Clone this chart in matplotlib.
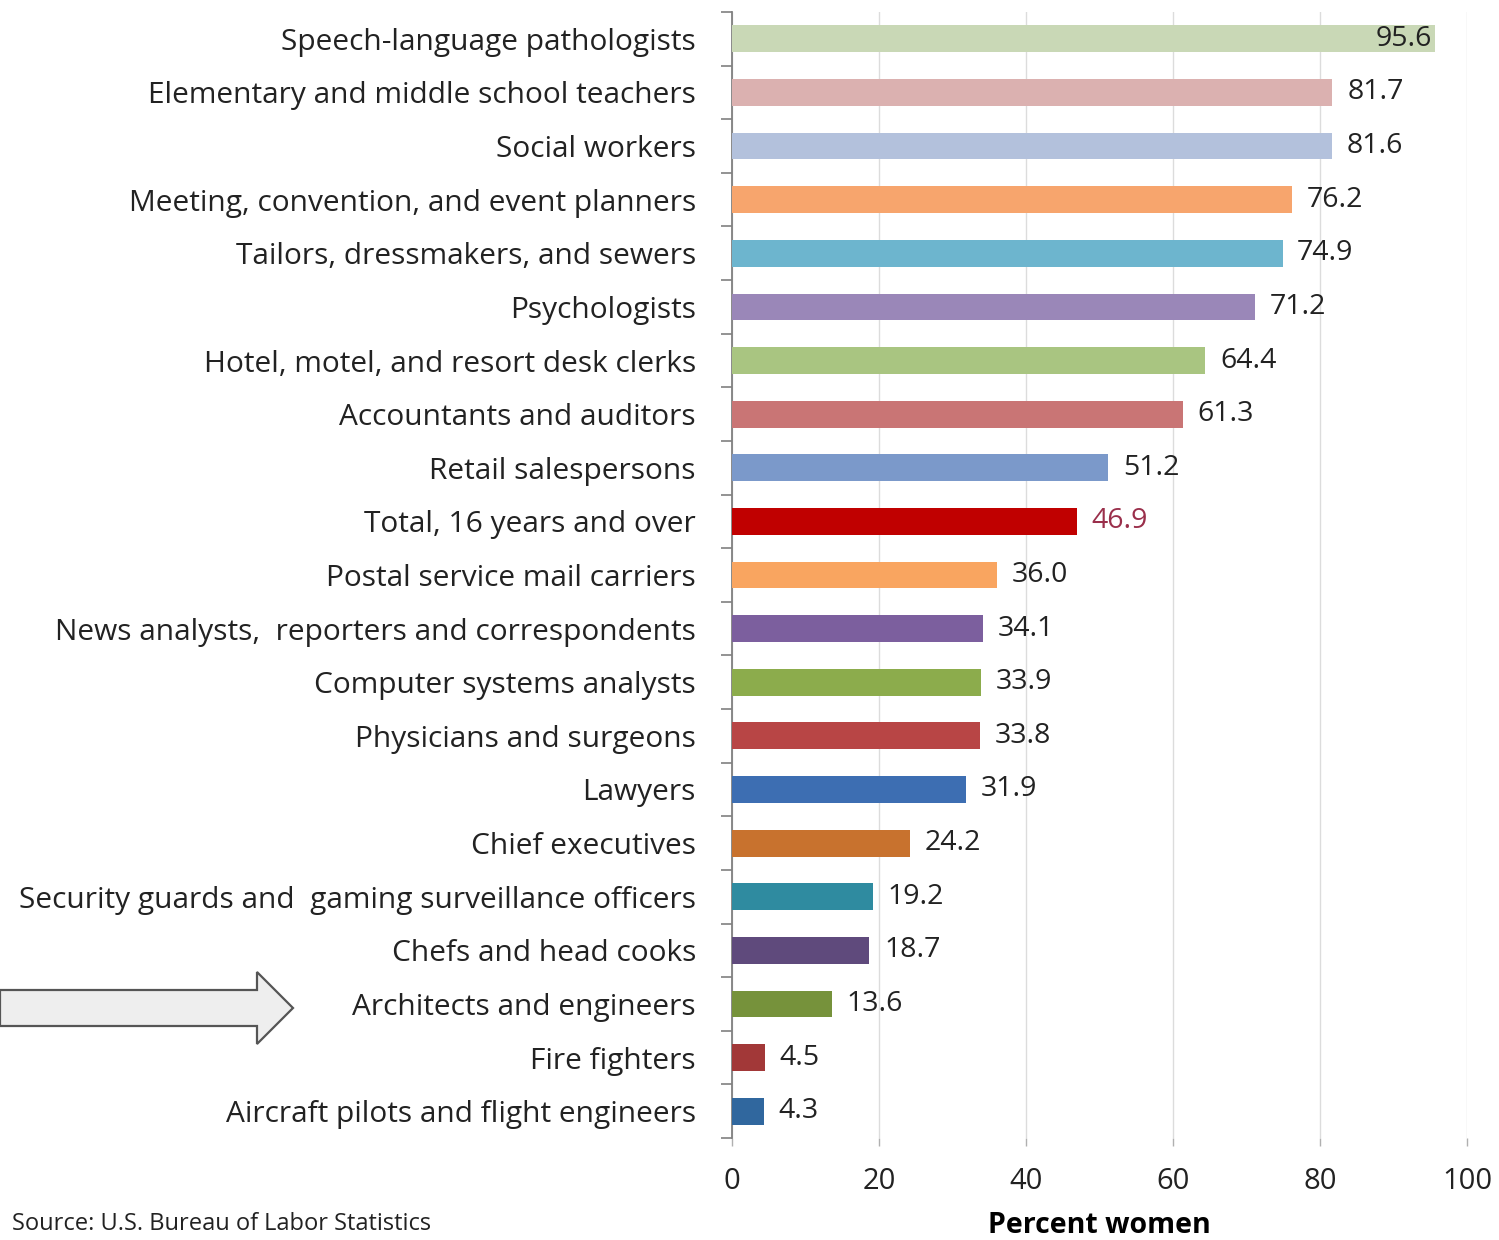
import matplotlib
matplotlib.use("Agg")
import matplotlib.pyplot as plt
from matplotlib.patches import Polygon
import numpy as np

plt.rcParams['font.family'] = ['Open Sans', 'DejaVu Sans']

occupations = [
    "Speech-language pathologists",
    "Elementary and middle school teachers",
    "Social workers",
    "Meeting, convention, and event planners",
    "Tailors, dressmakers, and sewers",
    "Psychologists",
    "Hotel, motel, and resort desk clerks",
    "Accountants and auditors",
    "Retail salespersons",
    "Total, 16 years and over",
    "Postal service mail carriers",
    "News analysts,  reporters and correspondents",
    "Computer systems analysts",
    "Physicians and surgeons",
    "Lawyers",
    "Chief executives",
    "Security guards and  gaming surveillance officers",
    "Chefs and head cooks",
    "Architects and engineers",
    "Fire fighters",
    "Aircraft pilots and flight engineers",
]
pct_women = [95.6, 81.7, 81.6, 76.2, 74.9, 71.2, 64.4, 61.3, 51.2, 46.9,
             36.0, 34.1, 33.9, 33.8, 31.9, 24.2, 19.2, 18.7, 13.6, 4.5, 4.3]
bar_colors = ["#c9d8b6", "#dbb1b0", "#b3c1dc", "#f7a56d", "#6db5ce", "#9a87b8",
              "#a9c581", "#c97575", "#7b99ca", "#c00000", "#f9a560", "#7c5f9e",
              "#8cac4c", "#b84545", "#3d6eb2", "#c8722e", "#2f8ba0", "#5f4a7c",
              "#76923b", "#a23838", "#30679e"]
label_colors = ["#222222"] * len(occupations)
label_colors[9] = "#9a2f4b"
xticks = [0, 20, 40, 60, 80, 100]

W, H = 1499, 1240
fig = plt.figure(figsize=(W / 100, H / 100), dpi=100)
ax = fig.add_axes([732 / W, 1 - 1138 / H, (1467 - 732) / W, (1138 - 12) / H])

y = np.arange(len(occupations))
ax.barh(y, pct_women, height=0.5, color=bar_colors, zorder=3)
for yi, v, c in zip(y, pct_women, label_colors):
    if v > 90:
        # no room past the bar end, so the value sits just inside it
        ax.text(v - 0.3, yi, f"{v:.1f}", va="center", ha="right",
                fontsize=20.5, color=c, zorder=4)
    else:
        ax.text(v + 2.0, yi, f"{v:.1f}", va="center", ha="left",
                fontsize=20.5, color=c, zorder=4)

ax.set_xlim(0, 100)
ax.set_ylim(len(occupations) - 0.5, -0.5)
ax.set_yticks(y)
ax.set_yticklabels(occupations, fontsize=21.5, color="#222222")
ax.set_yticks(np.arange(len(occupations) + 1) - 0.5, minor=True)
ax.tick_params(axis="y", which="major", length=0, pad=26)
ax.tick_params(axis="y", which="minor", length=8, width=1.2, color="#808080")
ax.set_xticks(xticks)
ax.set_xticklabels([str(t) for t in xticks], fontsize=21, color="#222222")
ax.tick_params(axis="x", length=6, width=1, color="#b0b0b0", pad=15)
ax.set_xlabel("Percent women", fontsize=20.5, fontweight="bold", labelpad=11)

ax.grid(axis="x", color="#dcdcdc", linewidth=1, zorder=0)
for side in ["top", "right", "bottom"]:
    ax.spines[side].set_visible(False)
ax.spines["left"].set_color("#808080")
ax.spines["left"].set_linewidth(1.3)

# pointer arrow on the left margin
arrow_px = [(0, 990), (257, 990), (257, 972), (293, 1008),
            (257, 1044), (257, 1026), (0, 1026)]
arrow = Polygon([(px / W, 1 - py / H) for px, py in arrow_px], closed=True,
                transform=fig.transFigure, facecolor="#eeeeee",
                edgecolor="#555555", linewidth=1.6)
fig.patches.append(arrow)

fig.text(12 / W, 1 - 1236 / H, "Source: U.S. Bureau of Labor Statistics",
         fontsize=17, color="#222222", ha="left", va="bottom")

fig.savefig("out.png", dpi=100)
